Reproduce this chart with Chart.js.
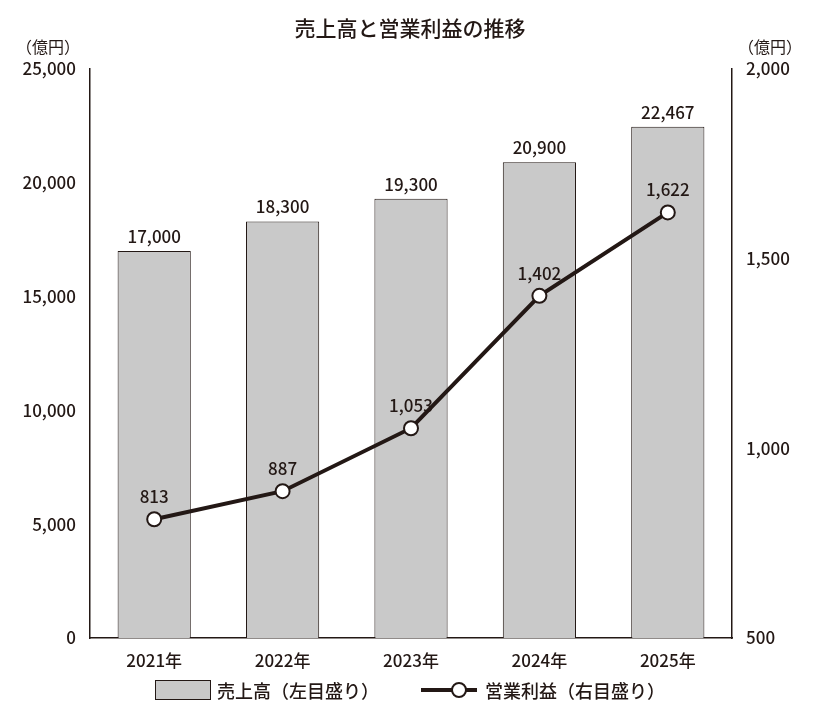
<!DOCTYPE html>
<html><head><meta charset="utf-8">
<script src="https://cdn.jsdelivr.net/npm/chart.js@4/dist/chart.umd.min.js"></script>
<style>
body{margin:0;background:#fff;font-family:"Noto Sans CJK JP",sans-serif;}
#wrap{position:relative;width:820px;height:725px;}
#title{position:absolute;top:12px;left:0;width:820px;text-align:center;font-size:21px;font-weight:500;color:#231815;}
.unit{position:absolute;top:34px;font-size:16px;color:#231815;}
#legend{position:absolute;top:677px;left:0;width:820px;display:flex;justify-content:center;gap:40px;font-size:18px;font-weight:500;color:#231815;align-items:center;}
.li{display:flex;align-items:center;gap:6px;}
</style></head><body>
<div id="wrap">
<canvas id="c" width="820" height="725"></canvas>
<div id="title">売上高と営業利益の推移</div>
<div class="unit" style="left:16px">（億円）</div>
<div class="unit" style="left:738px">（億円）</div>
<div id="legend">
<div class="li"><span style="display:inline-block;width:54px;height:18px;background:#c9c9c9;border:1px solid #231815"></span><span>売上高（左目盛り）</span></div>
<div class="li"><svg width="60" height="20"><line x1="2" y1="10" x2="58" y2="10" stroke="#231815" stroke-width="4"/><circle cx="40" cy="10" r="7" fill="#fff" stroke="#231815" stroke-width="2"/></svg><span>営業利益（右目盛り）</span></div>
</div>
</div>
<script>
const categories=["2021年","2022年","2023年","2024年","2025年"];
const sales=[17000,18300,19300,20900,22467];
const profit=[813,887,1053,1402,1622];
const dark="#231815";
const fmt=v=>v.toLocaleString("en-US");
const labelPlugin={id:"lbl",afterDatasetsDraw(ch){
 const c=ch.ctx;c.save();c.font='500 17px "Noto Sans CJK JP",sans-serif';c.fillStyle=dark;c.textAlign="center";c.textBaseline="bottom";
 ch.getDatasetMeta(0).data.forEach((b,i)=>c.fillText(fmt(sales[i]),b.x,b.y-6));
 ch.getDatasetMeta(1).data.forEach((p,i)=>c.fillText(fmt(profit[i]),p.x,p.y-14));
 c.restore();}};
Chart.defaults.font.family='"Noto Sans CJK JP",sans-serif';
Chart.defaults.font.weight='500';
Chart.defaults.color=dark;
new Chart(document.getElementById("c"),{
 data:{labels:categories,datasets:[
  {type:"bar",data:sales,backgroundColor:"#c9c9c9",borderColor:dark,borderWidth:1,yAxisID:"y",barPercentage:0.57,categoryPercentage:1,order:2},
  {type:"line",data:profit,borderColor:dark,borderWidth:4,pointRadius:7,pointHoverRadius:7,pointBackgroundColor:"#fff",pointBorderColor:dark,pointBorderWidth:2,yAxisID:"y1",order:1}
 ]},
 options:{responsive:false,animation:false,
  layout:{padding:{top:69,left:0,right:0,bottom:0}},
  plugins:{legend:{display:false},tooltip:{enabled:false}},
  scales:{
   x:{grid:{display:false,drawTicks:false},border:{color:dark,width:1.5},ticks:{font:{size:17},padding:12},afterFit(s){s.height=87;}},
   y:{position:"left",min:0,max:25000,ticks:{stepSize:5000,callback:v=>fmt(v),font:{size:17},padding:6},grid:{display:false,drawTicks:true,tickLength:8,drawOnChartArea:false,color:dark},border:{color:dark,width:1.5},afterFit(s){s.width=90;}},
   y1:{position:"right",min:500,max:2000,ticks:{stepSize:500,callback:v=>fmt(v),font:{size:17},padding:6},grid:{display:false,drawTicks:true,tickLength:8,drawOnChartArea:false,color:dark},border:{color:dark,width:1.5},afterFit(s){s.width=88;}}
  }},
 plugins:[labelPlugin]
});
</script></body></html>
